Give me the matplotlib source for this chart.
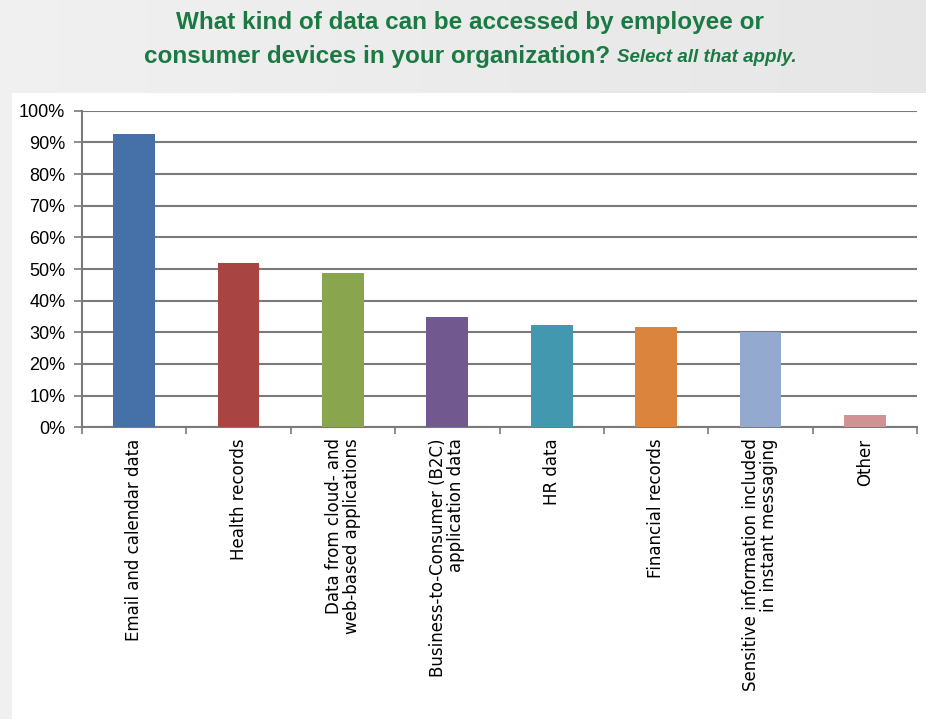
import numpy as np
import matplotlib.pyplot as plt
from matplotlib.patches import Rectangle

categories = [
    "Email and calendar data",
    "Health records",
    "Data from cloud- and\nweb-based applications",
    "Business-to-Consumer (B2C)\napplication data",
    "HR data",
    "Financial records",
    "Sensitive information included\nin instant messaging",
    "Other",
]
values = [92.7, 51.8, 48.7, 34.9, 32.4, 31.8, 30.0, 4.0]
colors = ["#4571a8", "#a84543", "#89a54e", "#71588f", "#4198af",
          "#db843d", "#93a9cf", "#d09292"]
yticks = list(range(0, 101, 10))

W, H = 926, 719
fig = plt.figure(figsize=(W / 100, H / 100), dpi=100)

# grey backdrop, a touch lighter on the left
bg = fig.add_axes([0, 0, 1, 1], zorder=-10)
grad = np.linspace(0, 1, 256)
shade = 0.94 - 0.04 * grad
bg.imshow(np.tile(shade, (2, 1)), cmap="gray", vmin=0, vmax=1,
          extent=[0, 1, 0, 1], aspect="auto")
bg.add_patch(Rectangle((12 / W, 0), 1, (H - 93) / H, facecolor="white",
                       edgecolor="none"))
bg.set_xlim(0, 1)
bg.set_ylim(0, 1)
bg.axis("off")

green = "#1b7a43"
fig.text(470 / W, 1 - 22 / H, "What kind of data can be accessed by employee or",
         ha="center", va="center", color=green, fontsize=17.5, fontweight="bold",
         family="Liberation Sans")
t1 = fig.text(0, 0, "consumer devices in your organization? ", ha="left", va="center",
              color=green, fontsize=17.5, fontweight="bold", family="Liberation Sans")
t2 = fig.text(0, 0, "Select all that apply.", ha="left", va="center", color=green,
              fontsize=13.5, fontweight="bold", style="italic", family="Liberation Sans")
# centre the mixed-style second line as a whole
r = fig.canvas.get_renderer()
w1 = t1.get_window_extent(r).width
w2 = t2.get_window_extent(r).width
x0 = 470 - (w1 + w2) / 2
t1.set_position((x0 / W, 1 - 57 / H))
t2.set_position(((x0 + w1) / W, 1 - 57 / H))

ax = fig.add_axes([82 / W, (H - 427.3) / H, (917 - 82) / W, (427.3 - 110.7) / H])
x = np.arange(len(categories))
ax.bar(x, values, width=0.4, color=colors, zorder=3)
ax.set_xlim(-0.5, len(categories) - 0.5)
ax.set_ylim(0, 100)
ax.set_yticks(yticks)
ax.set_yticklabels([f"{v}%" for v in yticks], family="Liberation Sans", fontsize=13)
ax.yaxis.grid(True, color="#7a7a7a", linewidth=1.5, zorder=0)
ax.set_axisbelow(True)

ax.set_xticks(np.arange(len(categories) + 1) - 0.5)
ax.set_xticklabels([])
ax.set_xticks(x, minor=True)
ax.set_xticklabels(categories, minor=True, rotation=90, ha="center", va="top",
                   multialignment="right", linespacing=1.0,
                   family="DejaVu Sans", fontsize=12)
ax.tick_params(axis="x", which="minor", length=0, pad=8)
ax.tick_params(axis="x", which="major", length=5, color="#7a7a7a", width=1.2)
ax.tick_params(axis="y", length=6, color="#7a7a7a", width=1.2, pad=6)

for side in ["top", "right"]:
    ax.spines[side].set_visible(False)
for side in ["left", "bottom"]:
    ax.spines[side].set_color("#7a7a7a")
    ax.spines[side].set_linewidth(1.5)

fig.savefig("out.png", dpi=100)
